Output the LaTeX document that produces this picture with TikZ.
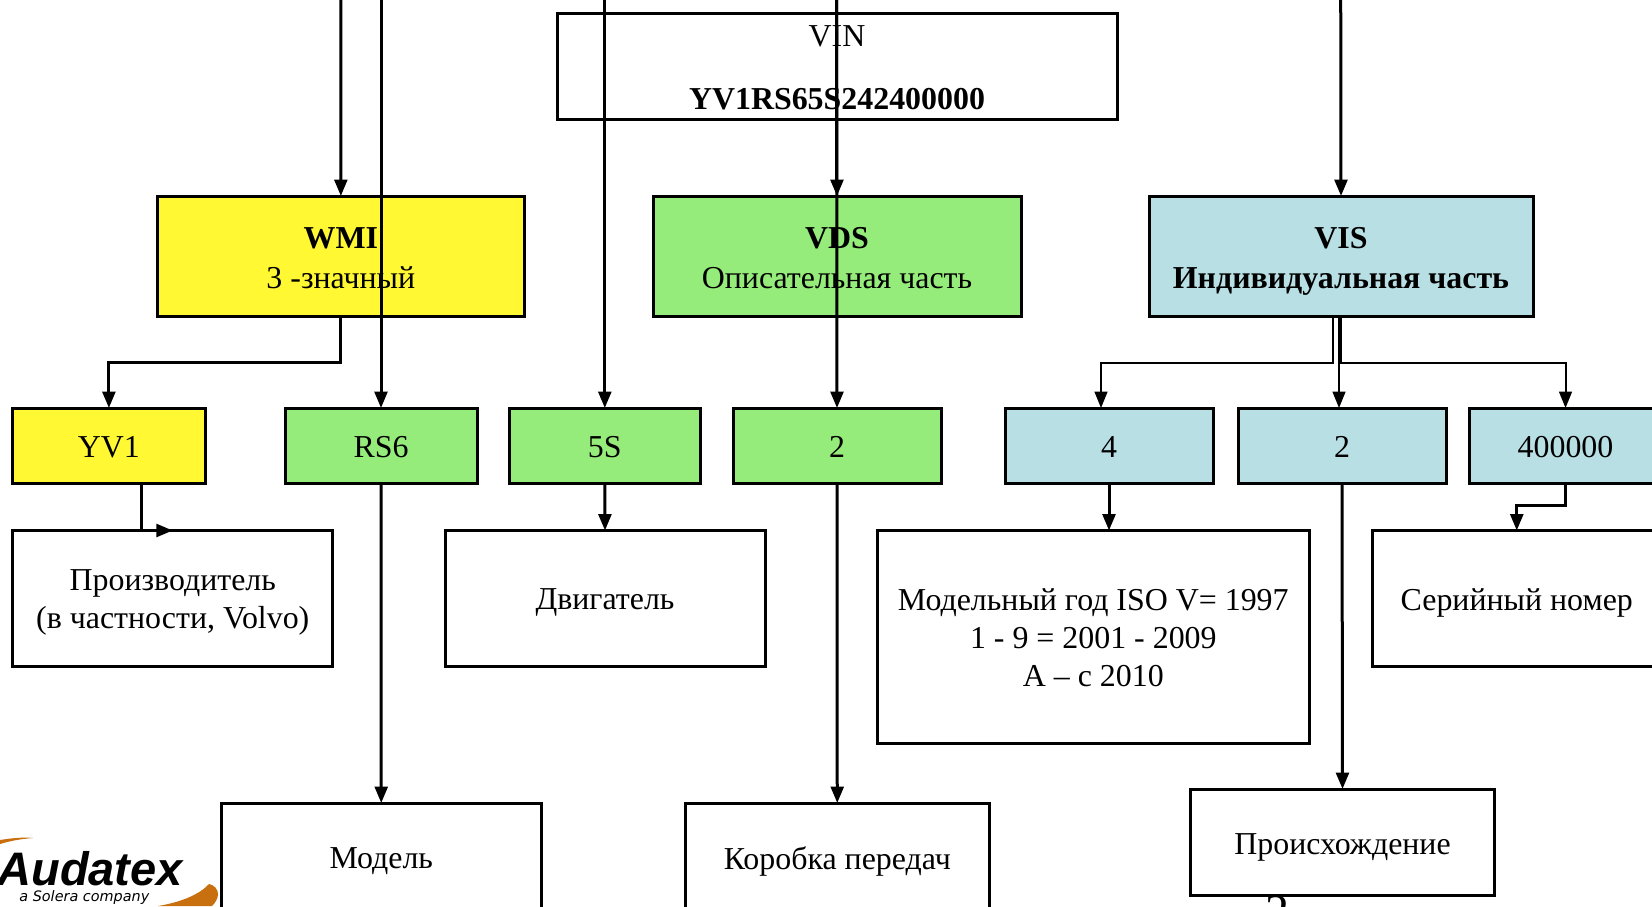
\documentclass[tikz,border=0pt]{standalone}
\usepackage{fontspec}
\setmainfont{Liberation Serif}
\newfontfamily\logofont{Liberation Sans}
\newfontfamily\logosub{DejaVu Sans}
\usetikzlibrary{arrows.meta,calc}
\definecolor{cyel}{RGB}{255,248,51}
\definecolor{cgrn}{RGB}{150,236,122}
\definecolor{cteal}{RGB}{184,224,228}
\definecolor{corange}{RGB}{200,112,15}
\tikzset{
  bx/.style={draw=black,line width=1.5pt,inner sep=0pt,outer sep=0pt},
  bxt/.style={inner sep=0pt,outer sep=0pt,align=center,font=\fontsize{15.95}{19}\selectfont},
  conn/.style={line width=1.5pt,-{Triangle[length=8.2pt,width=6.4pt]}},
  thinconn/.style={line width=1pt,-{Triangle[length=8.2pt,width=6.4pt]}},
}
\newcommand{\bxn}[8]{%
  \pgfmathsetmacro{\bw}{(#4-#2)*0.5}\pgfmathsetmacro{\bh}{(#5-#3)*0.5}%
  \node[bx,#6,minimum width=\bw pt,minimum height=\bh pt] (#1) at ({(#2+#4)/2},{(#3+#5)/2}) {};%
  \node[bxt,yshift=#8] (#1t) at (#1.center) {#7};%
}
\begin{document}
\begin{tikzpicture}[x=0.5pt,y=-0.5pt]
\useasboundingbox (0,0) rectangle (1652,906);
\clip (0,0) rectangle (1652,906);
\fill[white] (0,0) rectangle (1652,906);
% logo
\fill[corange] (0,840) .. controls (12,838) and (24,837) .. (33,838) .. controls (20,839) and (10,841) .. (0,844) -- cycle;
\fill[corange] (158,906) .. controls (182,902) and (200,894) .. (209,884) .. controls (214,885) and (218,889) .. (218,894) .. controls (218,899) and (215,903) .. (212,906) -- cycle;
\node[anchor=base west,inner sep=0pt,text=black] (logoa) at (-3,885) {\logofont\fontsize{23.5}{26}\selectfont\bfseries\itshape Audatex};
\node[anchor=base west,inner sep=0pt,text=black] (logob) at (19,901) {\logosub\fontsize{7.2}{9}\selectfont\itshape a Solera company};
% page number
\node[anchor=base,inner sep=0pt] (pnum) at (1277,927) {\fontsize{24}{28}\selectfont 2};
% boxes
\bxn{vin}{557}{13}{1117}{119}{fill=white}{VIN\\[12.5pt]\textbf{YV1RS65S242400000}}{-1.1pt}
\bxn{wmi}{157}{196}{524.7}{316.5}{fill=cyel}{\textbf{WMI}\\[1pt]3 -значный}{-0.8pt}
\bxn{vds}{653}{196}{1021}{316.5}{fill=cgrn}{\textbf{VDS}\\[1pt]Описательная часть}{-0.8pt}
\bxn{vis}{1149}{196}{1533}{316.5}{fill=cteal}{\textbf{VIS}\\[1pt]\textbf{Индивидуальная часть}}{-2.7pt}
\bxn{yv}{12.8}{408}{205}{483.5}{fill=cyel}{YV1}{-0.6pt}
\bxn{rs}{285}{408}{477}{483.5}{fill=cgrn}{RS6}{-0.6pt}
\bxn{fs}{509}{408}{700.6}{483.5}{fill=cgrn}{5S}{-0.6pt}
\bxn{two}{733}{408}{941}{483.5}{fill=cgrn}{2}{-0.6pt}
\bxn{four}{1005}{408}{1213}{483.5}{fill=cteal}{4}{-0.6pt}
\bxn{twob}{1238}{408}{1446}{483.5}{fill=cteal}{2}{-0.6pt}
\bxn{ser}{1469}{408}{1662}{483.5}{fill=cteal}{400000}{-0.6pt}
\bxn{prod}{12.8}{530.5}{332.7}{666.5}{fill=white}{Производитель\\(в частности, Volvo)}{-2.1pt}
\bxn{dvig}{445}{530.5}{765}{666.5}{fill=white}{Двигатель}{-2.1pt}
\bxn{mod}{877}{530.5}{1309.6}{743}{fill=white}{Модельный год ISO V= 1997\\1 - 9 = 2001 - 2009\\А – с 2010}{-0.3pt}
\bxn{snum}{1372.5}{530.5}{1661}{666.5}{fill=white}{Серийный номер}{-2.1pt}
\bxn{model}{221}{803}{541.5}{911}{fill=white}{Модель}{-2.1pt}
\bxn{kor}{685}{803}{989.5}{911}{fill=white}{Коробка передач}{-2.1pt}
\bxn{proi}{1190.5}{789}{1494.5}{895}{fill=white}{Происхождение}{-2.8pt}
% free ends
\coordinate (ta) at (340.8,-5);
\coordinate (tb) at (381,-5);
\coordinate (tc) at (604.8,-5);
\coordinate (td) at (836.5,-5);
\coordinate (te) at (1340.7,-5);
\coordinate (elb) at (141,500);
\coordinate (visl) at (1333,316);
\coordinate (visc) at (1339,316);
\coordinate (visr) at (1341,316);
\coordinate (fin) at (1101,408);
% connectors
\draw[conn] (ta) -- (wmi.north);
\draw[conn] (tb) -- (rs.north);
\draw[conn] (tc) -- (fs.north);
\draw[conn] (td) -- (vds.north);
\draw[conn] (td) -- (two.north);
\draw[conn] (te) -- (vis.north);
\draw[conn] (wmi.south) -- ++(0,46) -| (yv.north);
\draw[conn] (yv.south) -- (yv.south -| elb) -- (elb |- prod.north) -- (prod.north);
\draw[conn] (rs.south) -- (model.north);
\draw[conn] (fs.south) -- (dvig.north);
\draw[conn] (two.south) -- (kor.north);
\draw[thinconn] (visl) -- ++(0,47) -| (fin);
\draw[thinconn] (visc) -- (visc |- twob.north);
\draw[thinconn] (visr) -- ++(0,47) -| (ser.north);
\draw[conn] (four.south) -- (mod.north -| four.south);
\draw[conn] (twob.south) -- (proi.north);
\draw[conn] (ser.south) -- ++(0,22) -| (snum.north);
\end{tikzpicture}
\end{document}
